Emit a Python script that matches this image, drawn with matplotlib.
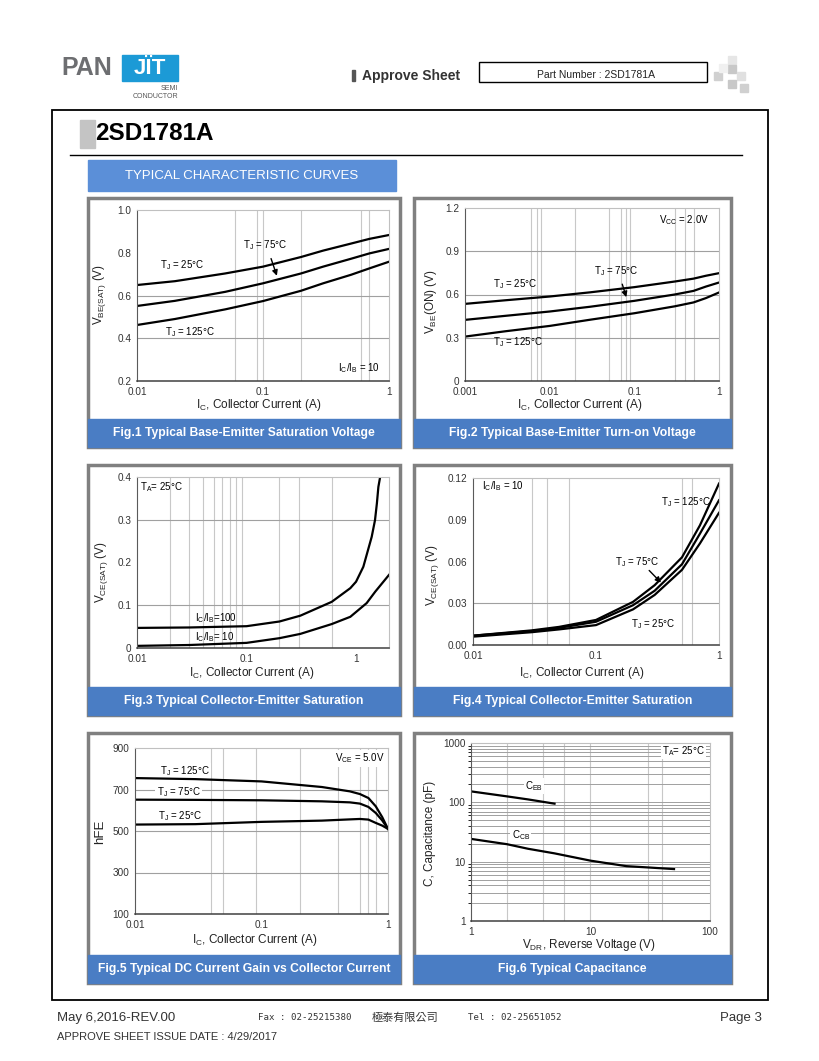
import matplotlib
matplotlib.use('Agg')
import matplotlib.pyplot as plt
from matplotlib.patches import Rectangle
from matplotlib.ticker import NullFormatter, NullLocator, LogLocator, FixedLocator

plt.rcParams['font.family'] = ['Liberation Sans', 'DejaVu Sans']
plt.rcParams['mathtext.fontset'] = 'custom'
plt.rcParams['mathtext.rm'] = 'Liberation Sans'
plt.rcParams['mathtext.it'] = 'Liberation Sans:italic'
plt.rcParams['mathtext.default'] = 'regular'

# ---------------- data ----------------
# Fig.1 VBE(SAT) vs IC
f1_ic = [0.01, 0.02, 0.05, 0.1, 0.2, 0.3, 0.5, 0.7, 1.0]
f1_t25 = [0.649, 0.667, 0.703, 0.735, 0.780, 0.810, 0.843, 0.865, 0.883]
f1_t75 = [0.551, 0.575, 0.617, 0.657, 0.703, 0.735, 0.772, 0.797, 0.818]
f1_t125 = [0.462, 0.490, 0.535, 0.574, 0.622, 0.657, 0.697, 0.727, 0.758]

# Fig.2 VBE(ON) vs IC
f2_ic = [0.001, 0.003, 0.01, 0.03, 0.1, 0.3, 0.5, 0.7, 1.0]
f2_t25 = [0.535, 0.560, 0.586, 0.615, 0.651, 0.690, 0.710, 0.730, 0.748]
f2_t75 = [0.424, 0.452, 0.482, 0.515, 0.556, 0.600, 0.625, 0.655, 0.683]
f2_t125 = [0.308, 0.345, 0.382, 0.425, 0.470, 0.518, 0.545, 0.575, 0.614]

# Fig.3 VCE(SAT) vs IC (TA = 25C)
f3_ic_100 = [0.01, 0.03, 0.1, 0.2, 0.31, 0.6, 0.887, 1.0, 1.166, 1.39, 1.49, 1.55, 1.60, 1.66]
f3_v_100 = [0.047, 0.048, 0.051, 0.062, 0.0756, 0.108, 0.140, 0.155, 0.190, 0.260, 0.299, 0.338, 0.377, 0.400]
f3_ic_10 = [0.01, 0.03, 0.1, 0.2, 0.31, 0.6, 0.887, 1.25, 1.5, 2.0]
f3_v_10 = [0.005, 0.007, 0.012, 0.023, 0.033, 0.056, 0.073, 0.105, 0.132, 0.171]

# Fig.4 VCE(SAT) vs IC (IC/IB = 10)
f4_ic = [0.01, 0.03, 0.05, 0.1, 0.2, 0.3, 0.5, 0.7, 1.0]
f4_t125 = [0.0067, 0.0105, 0.0130, 0.0180, 0.0310, 0.0430, 0.0630, 0.0860, 0.1160]
f4_t75 = [0.0067, 0.0100, 0.0123, 0.0167, 0.0286, 0.0390, 0.0580, 0.0800, 0.1040]
f4_t25 = [0.0060, 0.0092, 0.0112, 0.0143, 0.0256, 0.0360, 0.0540, 0.0730, 0.0950]

# Fig.5 hFE vs IC
f5_ic = [0.01, 0.03, 0.1, 0.3, 0.5, 0.6, 0.7, 0.8, 0.9, 1.0]
f5_t125 = [755, 750, 739, 712, 691, 678, 659, 619, 567, 510]
f5_t75 = [651, 650, 648, 643, 638, 632, 616, 587, 551, 510]
f5_t25 = [531, 533, 544, 550, 556, 558, 555, 539, 526, 510]

# Fig.6 Capacitance vs reverse voltage
f6_v_eb = [1, 2, 3, 5]
f6_c_eb = [153, 126, 112, 95]
f6_v_cb = [1, 2, 3, 5, 10, 20, 30, 50]
f6_c_cb = [24.2, 19.7, 16.5, 13.8, 10.4, 8.4, 8.0, 7.5]

captions = ["Fig.1 Typical Base-Emitter Saturation Voltage",
            "Fig.2 Typical Base-Emitter Turn-on Voltage",
            "Fig.3 Typical Collector-Emitter Saturation",
            "Fig.4 Typical Collector-Emitter Saturation",
            "Fig.5 Typical DC Current Gain vs Collector Current",
            "Fig.6 Typical Capacitance"]

# ---------------- figure ----------------
W, H = 820, 1061
fig = plt.figure(figsize=(W / 100, H / 100), dpi=100)
bg = fig.add_axes([0, 0, 1, 1])
bg.set_xlim(0, W)
bg.set_ylim(H, 0)
bg.axis('off')

CAP_BLUE = '#4a7dc4'
HEAD_BLUE = '#5b8fd8'


def px_axes(x0, y0, x1, y1):
    return fig.add_axes([x0 / W, 1 - y1 / H, (x1 - x0) / W, (y1 - y0) / H])


# header: logo
bg.text(61, 68, "PAN", fontsize=18, color='#6d6e71', fontweight='bold', va='center', ha='left')
bg.add_patch(Rectangle((122, 55), 56, 26, color='#1c9ad6'))
bg.text(150, 69, "JÏT", fontsize=16, color='white', fontweight='bold', va='center', ha='center')
bg.text(178, 88, "SEMI", fontsize=5, color='#555555', ha='right', va='center')
bg.text(178, 96, "CONDUCTOR", fontsize=5, color='#555555', ha='right', va='center')

bg.add_patch(Rectangle((352, 70), 3, 11, color='#555555'))
bg.text(362, 76, "Approve Sheet", fontsize=10, fontweight='bold', color='#333333', va='center', ha='left')
bg.add_patch(Rectangle((479, 62), 228, 20, fill=False, edgecolor='black', lw=1))
bg.text(596, 75, "Part Number : 2SD1781A", fontsize=7.5, color='#222222', va='center', ha='center')

for (sx, sy, c) in [(728, 56, '#e6e6e6'), (728, 65, '#c8c8c8'), (714, 72, '#d0d0d0'),
                    (737, 72, '#e0e0e0'), (728, 80, '#c8c8c8'), (740, 84, '#d0d0d0'),
                    (719, 64, '#f0f0f0')]:
    bg.add_patch(Rectangle((sx, sy), 8, 8, color=c))

# main frame
bg.add_patch(Rectangle((52, 110), 716, 890, fill=False, edgecolor='black', lw=1.3))
bg.add_patch(Rectangle((80, 120), 15, 28, color='#c4c4c4'))
bg.text(95, 134, "2SD1781A", fontsize=17.5, fontweight='bold', color='black', va='center', ha='left')
bg.plot([70, 742], [155, 155], color='black', lw=1)
bg.add_patch(Rectangle((88, 160), 308, 31, color=HEAD_BLUE))
bg.text(242, 176, "TYPICAL CHARACTERISTIC CURVES", fontsize=9.5, color='white', va='center', ha='center')

# panel frames
cols = [(88, 400), (414, 731)]
rows = [(198, 447), (465, 715), (733, 983)]
k = 0
for (py0, py1) in rows:
    for (px0, px1) in cols:
        bg.add_patch(Rectangle((px0, py0), px1 - px0, py1 - py0, facecolor='white',
                               edgecolor='#808080', lw=2.5))
        bg.add_patch(Rectangle((px0, py1 - 28), px1 - px0, 28, color=CAP_BLUE))
        bg.text((px0 + px1) / 2, py1 - 14, captions[k], fontsize=8.7, fontweight='bold',
                color='white', va='center', ha='center')
        k += 1

# footer
bg.text(57, 1018, "May 6,2016-REV.00", fontsize=9.5, color='#333333', va='center', ha='left')
bg.text(258, 1018, "Fax : 02-25215380", fontsize=6.6, family='DejaVu Sans Mono', color='#333333', va='center')
bg.text(372, 1018, "極泰有限公司", fontsize=8, family=['Noto Sans CJK TC', 'DejaVu Sans'], color='#333333', va='center')
bg.text(468, 1018, "Tel : 02-25651052", fontsize=6.6, family='DejaVu Sans Mono', color='#333333', va='center')
bg.text(762, 1018, "Page 3", fontsize=9.5, color='#333333', va='center', ha='right')
bg.text(57, 1037, "APPROVE SHEET ISSUE DATE : 4/29/2017", fontsize=8, color='#333333', va='center', ha='left')

VC = '#c8c8c8'
HC = '#a0a0a0'


def setup(ax, xlog, xlim, ylim, xticks, xlabels, yticks, ylabels, vlines, hlines):
    if xlog:
        ax.set_xscale('log')
    ax.set_xlim(*xlim)
    ax.set_ylim(*ylim)
    ax.xaxis.set_major_locator(FixedLocator(xticks))
    ax.set_xticklabels(xlabels)
    ax.xaxis.set_minor_locator(NullLocator())
    ax.xaxis.set_minor_formatter(NullFormatter())
    ax.yaxis.set_major_locator(FixedLocator(yticks))
    ax.set_yticklabels(ylabels)
    ax.tick_params(length=0, labelsize=7.2, colors='#333333', pad=4)
    for v in vlines:
        ax.axvline(v, color=VC, lw=0.8, zorder=0)
    for h in hlines:
        ax.axhline(h, color=HC, lw=0.8, zorder=0)
    ax.spines['left'].set_color('#5a5a5a')
    ax.spines['bottom'].set_color('#404040')
    ax.spines['bottom'].set_linewidth(1.1)
    ax.spines['top'].set_color('#c0c0c0')
    ax.spines['right'].set_color('#c0c0c0')
    ax.spines['top'].set_linewidth(0.8)
    ax.spines['right'].set_linewidth(0.8)


LW = 1.6
TS = 7
TZ = 1.5  # labels above grid, below curves


def axlabels(xc, yc, xt, yxc, yyc, yt, ysize=8.5):
    bg.text(xc, yc, xt, fontsize=8.5, color='#222222', ha='center', va='center')
    bg.text(yxc, yyc, yt, fontsize=ysize, color='#222222', ha='center', va='center', rotation=90)


# Fig.1
ax1 = px_axes(137, 210, 389, 381)
setup(ax1, True, (0.01, 1), (0.2, 1.0), [0.01, 0.1, 1], ["0.01", "0.1", "1"],
      [0.2, 0.4, 0.6, 0.8, 1.0], ["0.2", "0.4", "0.6", "0.8", "1.0"],
      [0.06, 0.09, 0.1, 0.2, 0.6, 0.7], [0.4, 0.6])
ax1.plot(f1_ic, f1_t25, color='black', lw=LW)
ax1.plot(f1_ic, f1_t75, color='black', lw=LW)
ax1.plot(f1_ic, f1_t125, color='black', lw=LW)
ax1.text(0.0153, 0.743, "T$_J$ = 25°C", fontsize=TS, va='center', zorder=TZ)
ax1.text(0.070, 0.836, "T$_J$ = 75°C", fontsize=TS, va='center', zorder=TZ)
ax1.annotate("", xy=(0.131, 0.680), xytext=(0.114, 0.785),
             arrowprops=dict(arrowstyle='-|>', color='black', lw=1, mutation_scale=8))
ax1.text(0.0168, 0.431, "T$_J$ = 125°C", fontsize=TS, va='center', zorder=TZ)
ax1.text(0.396, 0.259, "I$_C$/I$_B$ = 10", fontsize=TS, va='center', zorder=TZ)
axlabels(259, 405, "I$_C$, Collector Current (A)", 100, 295, "V$_{BE(SAT)}$ (V)")

# Fig.2
ax2 = px_axes(465, 208, 719, 381)
setup(ax2, True, (0.001, 1), (0, 1.2), [0.001, 0.01, 0.1, 1], ["0.001", "0.01", "0.1", "1"],
      [0, 0.3, 0.6, 0.9, 1.2], ["0", "0.3", "0.6", "0.9", "1.2"],
      [0.006, 0.007, 0.008, 0.02, 0.05, 0.07, 0.08, 0.09, 0.3, 0.4, 0.5], [0.3, 0.6, 0.9])
ax2.plot(f2_ic, f2_t25, color='black', lw=LW)
ax2.plot(f2_ic, f2_t75, color='black', lw=LW)
ax2.plot(f2_ic, f2_t125, color='black', lw=LW)
ax2.text(0.195, 1.119, "V$_{CC}$ = 2.0V", fontsize=TS, va='center', zorder=TZ)
ax2.text(0.00217, 0.672, "T$_J$ = 25°C", fontsize=TS, va='center', zorder=TZ)
ax2.text(0.0331, 0.764, "T$_J$ = 75°C", fontsize=TS, va='center', zorder=TZ)
ax2.annotate("", xy=(0.0822, 0.563), xytext=(0.0704, 0.690),
             arrowprops=dict(arrowstyle='-|>', color='black', lw=1, mutation_scale=8))
ax2.text(0.00217, 0.273, "T$_J$ = 125°C", fontsize=TS, va='center', zorder=TZ)
axlabels(580, 405, "I$_C$, Collector Current (A)", 431, 302, "V$_{BE}$(ON) (V)")

# Fig.3
ax3 = px_axes(137, 477, 389, 648)
setup(ax3, True, (0.01, 2), (0, 0.4), [0.01, 0.1, 1], ["0.01", "0.1", "1"],
      [0, 0.1, 0.2, 0.3, 0.4], ["0", "0.1", "0.2", "0.3", "0.4"],
      [0.02, 0.03, 0.04, 0.05, 0.06, 0.07, 0.08, 0.09, 0.2, 0.3, 0.6], [0.1, 0.3])
ax3.plot(f3_ic_100, f3_v_100, color='black', lw=LW)
ax3.plot(f3_ic_10, f3_v_10, color='black', lw=LW)
ax3.text(0.0107, 0.377, "T$_A$= 25°C", fontsize=TS, va='center', zorder=TZ)
ax3.text(0.0341, 0.071, "I$_C$/I$_B$=100", fontsize=TS, va='center', zorder=TZ)
ax3.text(0.0341, 0.026, "I$_C$/I$_B$= 10", fontsize=TS, va='center', zorder=TZ)
axlabels(252, 673, "I$_C$, Collector Current (A)", 102, 572, "V$_{CE(SAT)}$ (V)")

# Fig.4
ax4 = px_axes(473, 478, 719, 645)
setup(ax4, True, (0.01, 1), (0, 0.12), [0.01, 0.1, 1], ["0.01", "0.1", "1"],
      [0, 0.03, 0.06, 0.09, 0.12], ["0.00", "0.03", "0.06", "0.09", "0.12"],
      [0.03, 0.04, 0.06, 0.5, 0.6], [0.03])
ax4.plot(f4_ic, f4_t125, color='black', lw=LW)
ax4.plot(f4_ic, f4_t75, color='black', lw=LW)
ax4.plot(f4_ic, f4_t25, color='black', lw=LW)
ax4.text(0.0118, 0.114, "I$_C$/I$_B$ = 10", fontsize=TS, va='center', zorder=TZ)
ax4.text(0.335, 0.103, "T$_J$ = 125°C", fontsize=TS, va='center', zorder=TZ)
ax4.text(0.144, 0.0596, "T$_J$ = 75°C", fontsize=TS, va='center', zorder=TZ)
ax4.annotate("", xy=(0.35, 0.0434), xytext=(0.261, 0.0550),
             arrowprops=dict(arrowstyle='-|>', color='black', lw=1, mutation_scale=8))
ax4.text(0.191, 0.015, "T$_J$ = 25°C", fontsize=TS, va='center', zorder=TZ)
axlabels(582, 673, "I$_C$, Collector Current (A)", 433, 575, "V$_{CE(SAT)}$ (V)")

# Fig.5
ax5 = px_axes(135, 748, 388, 914)
setup(ax5, True, (0.01, 1), (100, 900), [0.01, 0.1, 1], ["0.01", "0.1", "1"],
      [100, 300, 500, 700, 900], ["100", "300", "500", "700", "900"],
      [0.04, 0.05, 0.09, 0.2, 0.4, 0.6, 0.7, 0.8], [300, 500, 700])
ax5.plot(f5_ic, f5_t125, color='black', lw=LW)
ax5.plot(f5_ic, f5_t75, color='black', lw=LW)
ax5.plot(f5_ic, f5_t25, color='black', lw=LW)
wb = dict(facecolor='white', edgecolor='none', pad=1)
ax5.text(0.0158, 787, "T$_J$ = 125°C", fontsize=TS, va='center', bbox=wb, zorder=TZ)
ax5.text(0.0148, 686, "T$_J$ = 75°C", fontsize=TS, va='center', bbox=wb, zorder=TZ)
ax5.text(0.0153, 574, "T$_J$ = 25°C", fontsize=TS, va='center', bbox=wb, zorder=TZ)
ax5.text(0.383, 849, "V$_{CE}$ = 5.0V", fontsize=TS, va='center', bbox=wb, zorder=TZ)
axlabels(255, 940, "I$_C$, Collector Current (A)", 100, 832, "hFE", ysize=9.5)

# Fig.6
ax6 = px_axes(471, 743, 710, 921)
ax6.set_yscale('log')
setup(ax6, True, (1, 100), (1, 1000), [1, 10, 100], ["1", "10", "100"],
      [1, 10, 100, 1000], ["1", "10", "100", "1000"],
      [2, 4, 6, 10, 30, 40], [])
ax6.yaxis.set_minor_locator(LogLocator(base=10, subs=range(2, 10)))
ax6.yaxis.set_minor_formatter(NullFormatter())
ax6.grid(which='both', axis='y', color=HC, lw=0.7, zorder=0)
ax6.set_axisbelow(True)
ax6.plot(f6_v_eb, f6_c_eb, color='black', lw=LW)
ax6.plot(f6_v_cb, f6_c_cb, color='black', lw=LW)
ax6.text(2.84, 187, "C$_{EB}$", fontsize=TS, va='center', bbox=wb, zorder=TZ)
ax6.text(2.19, 28.3, "C$_{CB}$", fontsize=TS, va='center', bbox=wb, zorder=TZ)
ax6.text(39.8, 731, "T$_A$= 25°C", fontsize=TS, va='center', bbox=wb, zorder=TZ)
axlabels(589, 945, "V$_{DR}$, Reverse Voltage (V)", 430, 833, "C, Capacitance (pF)")

fig.savefig('out.png', dpi=100)
